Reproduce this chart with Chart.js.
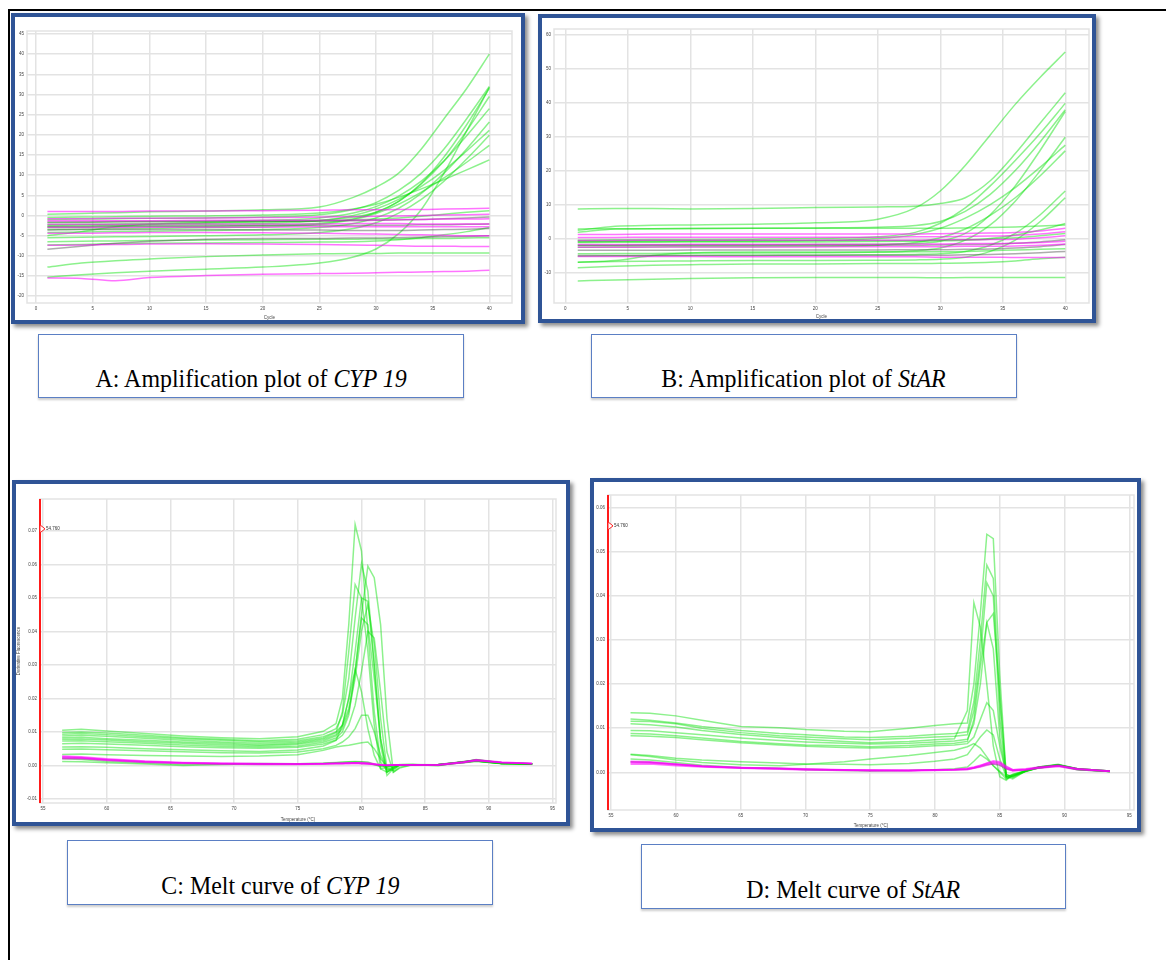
<!DOCTYPE html>
<html>
<head>
<meta charset="utf-8">
<script src="https://cdn.jsdelivr.net/npm/chart.js@4.4.1/dist/chart.umd.min.js"></script>
<style>
  body { margin: 0; background: #fff; width: 1166px; height: 960px; overflow: hidden; position: relative; }
  .page { position: absolute; left: 8px; top: 9px; width: 1158px; height: 951px; border-top: 2px solid #000; border-left: 2px solid #000; box-sizing: border-box; }
  .frame { position: absolute; box-sizing: border-box; border: 4px solid #2f5496; background: #fff; box-shadow: 3px 3px 4px rgba(0,0,0,0.45); }
  canvas { position: absolute; }
  .cap { position: absolute; box-sizing: border-box; border: 1px solid #5b7fc4; background: #fff;
         font-family: 'Liberation Serif', 'Times New Roman', serif; font-size: 26px; color: #000;
         display: flex; align-items: flex-end; justify-content: center; padding-bottom: 3px;
         box-shadow: 0 2px 2px rgba(0,0,0,0.2); white-space: pre; }
  .cap span { display: inline-block; transform: scaleX(0.92); }
</style>
</head>
<body>
<div class="page"></div>

<div class="frame" style="left:11px;top:13px;width:514px;height:311px"></div>
<div class="frame" style="left:538px;top:14px;width:558px;height:309px"></div>
<div class="frame" style="left:12px;top:480px;width:558px;height:346px"></div>
<div class="frame" style="left:590px;top:478px;width:551px;height:354px"></div>

<canvas id="chartA" width="506" height="303" style="left:15px;top:17px"></canvas>
<canvas id="chartB" width="550" height="301" style="left:542px;top:18px"></canvas>
<canvas id="chartC" width="550" height="338" style="left:16px;top:484px"></canvas>
<canvas id="chartD" width="543" height="346" style="left:594px;top:482px"></canvas>

<div class="cap" style="left:38px;top:334px;width:426px;height:64px"><span>A: Amplification plot of <i>CYP 19</i></span></div>
<div class="cap" style="left:591px;top:334px;width:426px;height:64px"><span>B: Amplification plot of <i>StAR</i></span></div>
<div class="cap" style="left:67px;top:840px;width:426px;height:65px"><span>C: Melt curve of <i>CYP 19</i></span></div>
<div class="cap" style="left:641px;top:844px;width:425px;height:65px"><span>D: Melt curve of <i>StAR</i></span></div>

<script>
// ---- amplification plots: cycle numbers ----
const cycles = [1, 4, 7, 10, 15, 20, 25, 28, 30, 32, 34, 36, 38, 40];

// A: CYP 19 amplification (fluorescence)
const aGreen = [
  [0.3, 0.5, 0.7, 0.9, 1.1, 1.4, 2.1, 4.5, 7.0, 10.5, 16.5, 24.0, 31.5, 40.0],
  [-1.0, -0.9, -0.8, -0.7, -0.6, -0.4, 0.2, 1.5, 3.2, 6.2, 10.5, 16.5, 24.0, 32.0],
  [-2.3, -2.2, -2.1, -2.0, -1.8, -1.6, -1.2, -0.4, 0.8, 3.5, 8.0, 14.5, 22.5, 31.5],
  [-3.0, -2.9, -2.8, -2.7, -2.6, -2.4, -1.9, -0.8, 0.8, 3.5, 7.8, 13.5, 21.0, 29.5],
  [-1.8, -1.7, -1.6, -1.5, -1.4, -1.2, -0.6, 0.6, 2.2, 4.8, 8.5, 13.5, 19.8, 26.5],
  [-4.2, -4.1, -4.0, -3.9, -3.7, -3.5, -3.0, -2.0, -0.6, 1.8, 5.5, 10.5, 16.5, 23.2],
  [-2.6, -2.5, -2.4, -2.3, -2.2, -2.0, -1.3, 0.0, 1.6, 4.0, 7.2, 11.2, 16.0, 21.1],
  [-5.5, -5.4, -5.3, -5.2, -5.0, -4.8, -4.2, -3.2, -1.8, 0.6, 4.0, 8.5, 14.0, 19.9],
  [-3.5, -3.4, -3.3, -3.2, -3.0, -2.8, -2.2, -1.0, 0.5, 2.8, 5.8, 9.3, 13.2, 17.4],
  [-0.5, -0.4, -0.3, -0.2, -0.1, 0.1, 0.6, 1.6, 2.8, 4.5, 6.6, 8.9, 11.3, 13.8],
  [-15.3, -14.7, -14.2, -13.8, -13.3, -12.8, -11.8, -10.3, -8.3, -4.5, 1.5, 10.5, 21.0, 31.8],
  [-12.8, -11.8, -11.2, -10.8, -10.2, -9.8, -9.5, -9.4, -9.4, -9.3, -9.3, -9.3, -9.3, -9.3],
  [-6.5, -6.4, -6.3, -6.2, -6.1, -6.0, -5.9, -5.9, -5.8, -5.8, -5.7, -5.7, -5.6, -5.5],
  [-7.3, -7.2, -7.0, -6.9, -6.8, -6.7, -6.6, -6.5, -6.3, -6.0, -5.5, -4.8, -4.0, -3.0],
  [-5.0, -4.0, -2.8, -2.2, -1.8, -1.5, -1.3, -1.1, -0.9, -0.6, -0.2, 0.3, 0.8, 1.2]
];
const aMagenta = [
  [1.0, 1.0, 1.0, 1.1, 1.1, 1.2, 1.3, 1.4, 1.4, 1.5, 1.5, 1.6, 1.7, 1.8],
  [-0.8, -0.8, -0.7, -0.7, -0.6, -0.5, -0.4, -0.3, -0.2, -0.1, 0.0, 0.1, 0.2, 0.3],
  [-1.3, -1.3, -1.3, -1.3, -1.2, -1.2, -1.2, -1.1, -1.1, -1.0, -1.0, -0.9, -0.9, -0.8],
  [-2.2, -2.2, -2.2, -2.1, -2.1, -2.1, -2.1, -2.0, -2.0, -2.0, -2.1, -2.1, -2.1, -2.1],
  [-3.0, -3.0, -3.0, -2.9, -2.9, -2.9, -2.8, -2.8, -2.8, -2.8, -2.8, -2.8, -2.8, -2.8],
  [-4.4, -4.4, -4.3, -4.2, -4.2, -4.3, -4.4, -4.5, -4.6, -4.7, -4.8, -4.9, -5.0, -5.0],
  [-7.4, -7.3, -7.2, -7.1, -7.0, -7.1, -7.2, -7.3, -7.4, -7.5, -7.6, -7.6, -7.7, -7.7],
  [-15.5, -15.6, -16.2, -15.4, -14.9, -14.6, -14.4, -14.3, -14.2, -14.1, -14.0, -13.9, -13.8, -13.6]
];
const aGray = [
  [-1.6, -1.6, -1.5, -1.5, -1.5, -1.4, -1.4, -1.3, -1.2, -1.1, -1.0, -0.8, -0.6, -0.4],
  [-2.7, -2.7, -2.6, -2.6, -2.6, -2.5, -2.5, -2.5, -2.4, -2.4, -2.3, -2.3, -2.2, -2.1],
  [-3.6, -3.5, -3.5, -3.5, -3.5, -3.6, -3.6, -3.7, -3.7, -3.7, -3.6, -3.5, -3.4, -3.2],
  [-8.4, -7.6, -6.9, -6.4, -5.9, -5.7, -5.7, -5.6, -5.6, -5.5, -5.4, -5.3, -5.2, -5.0]
];

// B: StAR amplification
const bGreen = [
  [2.4, 3.6, 3.9, 4.0, 4.2, 4.6, 5.7, 9.0, 14.0, 21.5, 30.5, 39.5, 47.5, 54.9],
  [8.7, 8.8, 8.8, 8.7, 8.8, 9.1, 9.3, 9.5, 10.3, 12.0, 17.0, 25.0, 34.0, 42.9],
  [-0.5, -0.4, -0.3, -0.3, -0.2, 0.0, 0.5, 1.8, 4.5, 9.0, 15.5, 23.0, 31.0, 39.8],
  [2.8, 2.9, 2.9, 3.0, 3.0, 3.1, 3.3, 3.8, 5.0, 8.0, 13.0, 20.0, 28.5, 37.9],
  [-2.0, -2.0, -1.9, -1.9, -1.9, -1.8, -1.7, -1.5, -0.8, 1.5, 7.0, 15.5, 26.0, 37.4],
  [-4.5, -4.4, -4.4, -4.3, -4.3, -4.2, -4.0, -3.6, -2.8, -0.5, 4.0, 11.0, 20.0, 29.8],
  [-1.0, -0.9, -0.9, -0.8, -0.8, -0.6, 0.0, 1.2, 3.0, 6.0, 10.0, 15.0, 21.0, 27.5],
  [-2.6, -2.5, -2.5, -2.4, -2.4, -2.3, -2.0, -1.2, 0.2, 2.8, 6.8, 12.0, 18.5, 25.8],
  [-5.2, -5.1, -5.0, -5.0, -4.9, -4.9, -4.8, -4.7, -4.5, -3.8, -2.0, 1.5, 7.0, 14.0],
  [-7.0, -6.8, -6.7, -6.6, -6.5, -6.5, -6.4, -6.3, -6.1, -5.5, -3.8, -0.5, 5.0, 12.0],
  [-1.2, -1.1, -1.1, -1.0, -1.0, -1.0, -0.9, -0.8, -0.7, -0.5, 0.0, 1.0, 2.5, 4.4],
  [-12.5, -12.2, -12.0, -11.8, -11.6, -11.5, -11.5, -11.5, -11.6, -11.5, -11.5, -11.5, -11.5, -11.5],
  [-8.6, -8.2, -7.9, -7.7, -7.5, -7.5, -7.4, -7.4, -7.3, -7.2, -7.0, -6.6, -6.0, -5.5],
  [1.8, 2.8, 2.9, 2.9, 3.0, 3.0, 3.0, 3.0, 3.0, 3.1, 3.2, 3.4, 3.7, 4.0],
  [-7.0, -6.5, -5.0, -4.3, -4.0, -4.0, -4.0, -3.9, -3.9, -3.8, -3.6, -3.4, -3.2, -3.0],
  [-0.8, -0.8, -0.7, -0.7, -0.6, -0.6, -0.6, -0.6, -0.5, -0.4, -0.2, 0.2, 0.8, 1.5]
];
const bMagenta = [
  [1.2, 1.2, 1.3, 1.3, 1.3, 1.3, 1.3, 1.3, 1.4, 1.5, 1.6, 1.8, 2.2, 3.0],
  [0.3, 0.3, 0.4, 0.4, 0.4, 0.4, 0.4, 0.5, 0.5, 0.6, 0.7, 0.9, 1.3, 2.0],
  [-0.6, -0.6, -0.5, -0.5, -0.5, -0.5, -0.5, -0.5, -0.4, -0.4, -0.3, -0.2, 0.2, 0.8],
  [-1.8, -1.8, -1.8, -1.7, -1.7, -1.7, -1.7, -1.6, -1.6, -1.5, -1.5, -1.4, -1.2, -0.8],
  [-2.6, -2.6, -2.5, -2.5, -2.5, -2.5, -2.4, -2.4, -2.4, -2.3, -2.3, -2.2, -2.0, -1.6],
  [-5.3, -5.3, -5.3, -5.3, -5.4, -5.4, -5.4, -5.4, -5.5, -5.5, -5.5, -5.6, -5.6, -5.6]
];
const bGray = [
  [-2.1, -2.1, -2.0, -2.0, -2.0, -2.0, -2.0, -2.0, -1.9, -1.8, -1.7, -1.4, -1.0, -0.4],
  [-3.5, -3.5, -3.5, -3.4, -3.4, -3.4, -3.4, -3.3, -3.3, -3.2, -3.1, -2.8, -2.4, -1.8],
  [-5.0, -5.0, -5.0, -5.0, -5.0, -4.9, -4.9, -4.9, -4.9, -4.8, -4.7, -4.5, -4.2, -3.8]
];

// ---- melt curves: temperature (°C) ----
const tempC = [56.5, 58, 60, 63, 66, 69, 72, 75, 77, 78, 78.5, 79, 79.5, 80, 80.5, 81, 81.5, 82, 82.5, 83, 84, 86, 88, 89, 91, 93.4];
const cGreen = [
  [0.0105, 0.0108, 0.0103, 0.0095, 0.0088, 0.0083, 0.0080, 0.0086, 0.0102, 0.0125, 0.020, 0.042, 0.0719, 0.064, 0.040, 0.016, 0.001, -0.0015, -0.0005, 0.0003, 0.0002, 0.0002, 0.0008, 0.0012, 0.0006, 0.0004],
  [0.0098, 0.0100, 0.0097, 0.0090, 0.0083, 0.0078, 0.0074, 0.0078, 0.0092, 0.0110, 0.015, 0.026, 0.044, 0.0602, 0.052, 0.030, 0.008, -0.002, -0.001, 0.0002, 0.0003, 0.0001, 0.0009, 0.0015, 0.0007, 0.0005],
  [0.0093, 0.0095, 0.0092, 0.0086, 0.0080, 0.0075, 0.0071, 0.0074, 0.0086, 0.0100, 0.012, 0.017, 0.028, 0.045, 0.0595, 0.056, 0.042, 0.014, -0.002, -0.0008, 0.0002, 0.0002, 0.0010, 0.0014, 0.0006, 0.0004],
  [0.0088, 0.0090, 0.0087, 0.0081, 0.0075, 0.0070, 0.0066, 0.0070, 0.0082, 0.0098, 0.016, 0.034, 0.054, 0.050, 0.034, 0.012, -0.001, -0.002, -0.0005, 0.0002, 0.0001, 0.0003, 0.0011, 0.0013, 0.0005, 0.0004],
  [0.0083, 0.0084, 0.0080, 0.0075, 0.0070, 0.0066, 0.0062, 0.0066, 0.0078, 0.0092, 0.012, 0.020, 0.034, 0.050, 0.049, 0.030, 0.006, -0.003, -0.001, 0.0002, 0.0002, 0.0002, 0.0010, 0.0016, 0.0006, 0.0005],
  [0.0078, 0.0079, 0.0076, 0.0071, 0.0066, 0.0062, 0.0059, 0.0063, 0.0074, 0.0088, 0.011, 0.016, 0.026, 0.040, 0.048, 0.036, 0.014, -0.001, -0.0015, 0.0001, 0.0002, 0.0001, 0.0009, 0.0013, 0.0007, 0.0004],
  [0.0073, 0.0074, 0.0071, 0.0066, 0.0061, 0.0057, 0.0055, 0.0058, 0.0069, 0.0082, 0.010, 0.015, 0.028, 0.044, 0.042, 0.026, 0.008, -0.002, -0.0008, 0.0002, 0.0003, 0.0002, 0.0011, 0.0015, 0.0006, 0.0005],
  [0.0065, 0.0066, 0.0064, 0.0060, 0.0056, 0.0053, 0.0051, 0.0054, 0.0064, 0.0076, 0.009, 0.012, 0.018, 0.028, 0.040, 0.038, 0.022, 0.004, -0.002, -0.0005, 0.0002, 0.0002, 0.0010, 0.0014, 0.0007, 0.0004],
  [0.0055, 0.0056, 0.0054, 0.0050, 0.0047, 0.0044, 0.0042, 0.0046, 0.0058, 0.0075, 0.012, 0.020, 0.0287, 0.022, 0.011, 0.003, -0.001, -0.0005, 0.0, 0.0002, 0.0002, 0.0002, 0.0010, 0.0013, 0.0006, 0.0004],
  [0.0048, 0.0049, 0.0047, 0.0044, 0.0041, 0.0038, 0.0037, 0.0040, 0.0050, 0.0060, 0.0070, 0.0085, 0.011, 0.0150, 0.0150, 0.010, 0.003, -0.001, -0.0005, 0.0002, 0.0002, 0.0002, 0.0009, 0.0013, 0.0006, 0.0004],
  [0.0033, 0.0034, 0.0032, 0.0030, 0.0028, 0.0027, 0.0028, 0.0032, 0.0045, 0.0055, 0.0058, 0.0060, 0.0064, 0.0068, 0.0070, 0.0050, 0.002, -0.0005, 0.0, 0.0002, 0.0002, 0.0002, 0.0010, 0.0014, 0.0006, 0.0004],
  [0.0012, 0.0011, 0.0008, 0.0004, 0.0000, 0.0003, 0.0005, 0.0004, 0.0006, 0.0008, 0.0009, 0.0010, 0.0011, 0.0010, 0.0008, 0.0003, -0.0004, 0.0000, 0.0002, 0.0001, 0.0002, 0.0001, 0.0010, 0.0018, 0.0007, 0.0005],
  [0.0020, 0.0018, 0.0012, 0.0007, 0.0003, 0.0005, 0.0006, 0.0005, 0.0007, 0.0009, 0.0010, 0.0011, 0.0012, 0.0011, 0.0010, 0.0004, 0.0000, -0.0002, 0.0001, 0.0002, 0.0003, -0.0001, 0.0012, 0.0016, 0.0008, 0.0005]
];
const cMagenta = [
  [0.0028, 0.0026, 0.0020, 0.0013, 0.0009, 0.0007, 0.0006, 0.0005, 0.0006, 0.0007, 0.0007, 0.0008, 0.0008, 0.0007, 0.0006, 0.0004, 0.0002, 0.0001, 0.0002, 0.0002, 0.0002, 0.0001, 0.0008, 0.0014, 0.0008, 0.0006],
  [0.0024, 0.0023, 0.0017, 0.0011, 0.0007, 0.0005, 0.0004, 0.0004, 0.0005, 0.0006, 0.0006, 0.0006, 0.0007, 0.0006, 0.0005, 0.0003, 0.0002, 0.0001, 0.0001, 0.0002, 0.0001, 0.0002, 0.0010, 0.0016, 0.0009, 0.0005],
  [0.0020, 0.0021, 0.0015, 0.0009, 0.0006, 0.0004, 0.0003, 0.0003, 0.0004, 0.0005, 0.0005, 0.0005, 0.0005, 0.0005, 0.0004, 0.0003, 0.0001, 0.0000, 0.0001, 0.0001, 0.0001, 0.0001, 0.0009, 0.0015, 0.0009, 0.0006],
  [0.0026, 0.0024, 0.0018, 0.0012, 0.0008, 0.0006, 0.0005, 0.0004, 0.0005, 0.0006, 0.0006, 0.0007, 0.0008, 0.0009, 0.0008, 0.0005, 0.0002, 0.0000, 0.0002, 0.0002, 0.0002, 0.0003, 0.0011, 0.0017, 0.0010, 0.0006]
];
const cGray = [
  [0.0022, 0.0021, 0.0016, 0.0010, 0.0007, 0.0005, 0.0004, 0.0004, 0.0005, 0.0006, 0.0006, 0.0007, 0.0007, 0.0006, 0.0005, 0.0003, 0.0001, 0.0001, 0.0001, 0.0001, 0.0002, 0.0002, 0.0010, 0.0017, 0.0009, 0.0005]
];

const tempD = [56.5, 58, 60, 62, 65, 68, 70, 73, 75, 78, 80, 81.5, 82.5, 83, 83.5, 84, 84.5, 85, 85.5, 86, 87, 88, 89.5, 91, 93.5];
const dGreen = [
  [0.0135, 0.0134, 0.0128, 0.0118, 0.0104, 0.0101, 0.0097, 0.0093, 0.0092, 0.0100, 0.0106, 0.0110, 0.0112, 0.020, 0.036, 0.054, 0.053, 0.022, -0.0010, -0.0015, 0.0003, 0.0012, 0.0018, 0.0008, 0.0003],
  [0.0121, 0.0118, 0.0112, 0.0104, 0.0095, 0.0088, 0.0085, 0.0080, 0.0079, 0.0082, 0.0086, 0.0088, 0.0092, 0.016, 0.030, 0.047, 0.044, 0.016, -0.0012, -0.0010, 0.0004, 0.0010, 0.0016, 0.0007, 0.0002],
  [0.0116, 0.0115, 0.0110, 0.0100, 0.0090, 0.0083, 0.0080, 0.0076, 0.0074, 0.0077, 0.0080, 0.0082, 0.0085, 0.014, 0.026, 0.043, 0.040, 0.012, -0.0015, -0.0008, 0.0003, 0.0011, 0.0017, 0.0008, 0.0003],
  [0.0110, 0.0108, 0.0103, 0.0095, 0.0086, 0.0079, 0.0075, 0.0070, 0.0067, 0.0070, 0.0074, 0.0076, 0.014, 0.0385, 0.033, 0.020, 0.006, -0.0010, -0.0018, -0.0005, 0.0003, 0.0012, 0.0016, 0.0007, 0.0002],
  [0.0095, 0.0094, 0.0090, 0.0085, 0.0078, 0.0072, 0.0069, 0.0066, 0.0064, 0.0066, 0.0069, 0.0071, 0.0075, 0.011, 0.020, 0.034, 0.036, 0.018, -0.0005, -0.0012, 0.0002, 0.0010, 0.0015, 0.0006, 0.0002],
  [0.0088, 0.0087, 0.0083, 0.0078, 0.0070, 0.0065, 0.0062, 0.0060, 0.0058, 0.0061, 0.0064, 0.0066, 0.0070, 0.012, 0.024, 0.034, 0.028, 0.008, -0.0010, -0.0008, 0.0003, 0.0011, 0.0017, 0.0007, 0.0003],
  [0.0083, 0.0082, 0.0079, 0.0074, 0.0067, 0.0062, 0.0059, 0.0056, 0.0055, 0.0057, 0.0060, 0.0062, 0.0065, 0.0080, 0.0120, 0.0158, 0.0140, 0.006, -0.0005, -0.0010, 0.0003, 0.0010, 0.0016, 0.0007, 0.0002],
  [0.0041, 0.0038, 0.0032, 0.0028, 0.0024, 0.0021, 0.0019, 0.0018, 0.0017, 0.0020, 0.0025, 0.0030, 0.0040, 0.0060, 0.0080, 0.0096, 0.0085, 0.003, -0.0010, -0.0005, 0.0004, 0.0012, 0.0017, 0.0008, 0.0003],
  [0.0040, 0.0036, 0.0028, 0.0022, 0.0017, 0.0015, 0.0018, 0.0024, 0.0030, 0.0038, 0.0045, 0.0050, 0.0058, 0.0065, 0.0055, 0.0035, 0.0015, 0.0002, -0.0010, -0.0006, 0.0003, 0.0011, 0.0017, 0.0007, 0.0002],
  [0.0030, 0.0028, 0.0022, 0.0016, 0.0011, 0.0009, 0.0006, 0.0004, 0.0003, 0.0004, 0.0006, 0.0008, 0.0012, 0.0025, 0.0040, 0.0030, 0.0015, 0.0000, -0.0015, -0.0008, 0.0002, 0.0010, 0.0016, 0.0006, 0.0002]
];
const dMagenta = [
  [0.0025, 0.0024, 0.0019, 0.0015, 0.0011, 0.0009, 0.0008, 0.0006, 0.0005, 0.0005, 0.0006, 0.0007, 0.0009, 0.0012, 0.0016, 0.0020, 0.0024, 0.0022, 0.0012, 0.0006, 0.0008, 0.0012, 0.0016, 0.0008, 0.0003],
  [0.0021, 0.0021, 0.0017, 0.0013, 0.0010, 0.0008, 0.0006, 0.0005, 0.0004, 0.0004, 0.0005, 0.0006, 0.0007, 0.0010, 0.0014, 0.0019, 0.0022, 0.0020, 0.0010, 0.0004, 0.0006, 0.0010, 0.0014, 0.0007, 0.0002],
  [0.0018, 0.0019, 0.0015, 0.0012, 0.0009, 0.0007, 0.0005, 0.0004, 0.0003, 0.0003, 0.0004, 0.0005, 0.0006, 0.0009, 0.0012, 0.0016, 0.0020, 0.0018, 0.0008, 0.0003, 0.0005, 0.0009, 0.0013, 0.0006, 0.0002],
  [0.0023, 0.0022, 0.0018, 0.0014, 0.0011, 0.0009, 0.0007, 0.0005, 0.0005, 0.0004, 0.0005, 0.0006, 0.0008, 0.0011, 0.0015, 0.0021, 0.0026, 0.0024, 0.0014, 0.0006, 0.0007, 0.0011, 0.0015, 0.0008, 0.0003]
];
const dGray = [
  [0.0024, 0.0023, 0.0018, 0.0014, 0.0010, 0.0008, 0.0007, 0.0005, 0.0004, 0.0004, 0.0005, 0.0006, 0.0007, 0.0010, 0.0013, 0.0017, 0.0019, 0.0016, 0.0008, 0.0004, 0.0006, 0.0011, 0.0016, 0.0008, 0.0003]
];

const meltThreshold = 54.76;

// colours
const GREEN = 'rgba(0, 225, 0, 0.45)';
const MAGENTA = 'rgba(255, 0, 255, 0.55)';
const GRAY = 'rgba(70, 70, 70, 0.45)';
const GRID = '#e3e3e3';
const FONT = "'Liberation Sans', 'DejaVu Sans', sans-serif";

function series(xs, groups, smooth) {
  const out = [];
  // first dataset is drawn on top, so magenta goes first
  [[groups.magenta, MAGENTA], [groups.gray, GRAY], [groups.green, GREEN]].forEach(([list, col]) => {
    list.forEach(ys => out.push({
      data: xs.map((x, i) => ({ x: x, y: ys[i] })),
      borderColor: col,
      borderWidth: 1.5,
      pointRadius: 0,
      fill: false,
      tension: smooth ? 0.4 : 0,
      cubicInterpolationMode: smooth ? 'monotone' : 'default'
    }));
  });
  return out;
}

function onSteps(step) {
  return function(scale) {
    scale.ticks = scale.ticks.filter(t => Math.abs(t.value / step - Math.round(t.value / step)) < 1e-6);
  };
}

// light frame round the plot area
const plotBox = {
  id: 'plotBox',
  beforeDatasetsDraw(chart) {
    const a = chart.chartArea, ctx = chart.ctx;
    ctx.save();
    ctx.strokeStyle = GRID;
    ctx.lineWidth = 1.5;
    ctx.strokeRect(a.left, a.top, a.right - a.left, a.bottom - a.top);
    ctx.restore();
  }
};

// red start marker on melt plots
const startMarker = {
  id: 'startMarker',
  afterDatasetsDraw(chart, args, opts) {
    if (opts.value === undefined) return;
    const ctx = chart.ctx, a = chart.chartArea;
    const x = chart.scales.x.getPixelForValue(opts.value);
    const y = chart.scales.y.getPixelForValue(opts.at);
    ctx.save();
    ctx.strokeStyle = '#ff1a1a';
    ctx.lineWidth = 2;
    ctx.beginPath();
    ctx.moveTo(x, a.top);
    ctx.lineTo(x, a.bottom);
    ctx.stroke();
    ctx.lineWidth = 1;
    ctx.fillStyle = '#fff';
    ctx.beginPath();
    ctx.moveTo(x, y - 4);
    ctx.lineTo(x + 5, y);
    ctx.lineTo(x, y + 4);
    ctx.closePath();
    ctx.fill();
    ctx.stroke();
    ctx.fillStyle = '#333';
    ctx.font = '4.5px ' + FONT;
    ctx.textBaseline = 'middle';
    ctx.fillText(opts.value.toFixed(3), x + 6, y);
    ctx.restore();
  }
};

function makeChart(id, cfg) {
  const tickFont = { family: FONT, size: 4.5 };
  new Chart(document.getElementById(id), {
    type: 'line',
    data: { datasets: cfg.datasets },
    plugins: [plotBox, startMarker],
    options: {
      responsive: false,
      animation: false,
      events: [],
      layout: { padding: cfg.padding },
      plugins: {
        legend: { display: false },
        tooltip: { enabled: false },
        startMarker: cfg.marker || {}
      },
      scales: {
        x: {
          type: 'linear',
          min: cfg.x.min, max: cfg.x.max,
          afterBuildTicks: onSteps(5),
          afterFit: s => { s.height = cfg.xHeight; },
          ticks: { stepSize: 5, includeBounds: false, font: tickFont, color: '#444', padding: 3, maxRotation: 0 },
          grid: { color: GRID, lineWidth: 1.5, drawTicks: false },
          border: { display: false },
          title: { display: true, text: cfg.x.title, font: tickFont, color: '#444', padding: { top: 1, bottom: 0 } }
        },
        y: {
          min: cfg.y.min, max: cfg.y.max,
          afterBuildTicks: onSteps(cfg.y.step),
          afterFit: s => { s.width = cfg.yWidth; },
          ticks: { stepSize: cfg.y.step, includeBounds: false, font: tickFont, color: '#444', padding: 3,
                   callback: cfg.y.fmt || (v => v) },
          grid: { color: GRID, lineWidth: 1.5, drawTicks: false },
          border: { display: false },
          title: { display: !!cfg.y.title, text: cfg.y.title || '', font: tickFont, color: '#444', padding: 0 }
        }
      }
    }
  });
}

makeChart('chartA', {
  datasets: series(cycles, { green: aGreen, magenta: aMagenta, gray: aGray }, true),
  padding: { left: 0, top: 14, right: 9, bottom: 0 },
  yWidth: 12, xHeight: 17,
  x: { min: -0.8, max: 42, title: 'Cycle' },
  y: { min: -21.7, max: 45.75, step: 5 }
});

makeChart('chartB', {
  datasets: series(cycles, { green: bGreen, magenta: bMagenta, gray: bGray }, true),
  padding: { left: 0, top: 11, right: 3, bottom: 0 },
  yWidth: 12, xHeight: 16,
  x: { min: -0.9, max: 41.9, title: 'Cycle' },
  y: { min: -19.0, max: 61.7, step: 10 }
});

makeChart('chartC', {
  datasets: series(tempC, { green: cGreen, magenta: cMagenta, gray: cGray }, false),
  padding: { left: 0, top: 15, right: 10, bottom: 0 },
  yWidth: 24, xHeight: 19,
  x: { min: 54.76, max: 95.27, title: 'Temperature (°C)' },
  y: { min: -0.0112, max: 0.0795, step: 0.01, fmt: v => v.toFixed(2), title: 'Derivative Fluorescence' },
  marker: { value: meltThreshold, at: 0.0706 }
});

makeChart('chartD', {
  datasets: series(tempD, { green: dGreen, magenta: dMagenta, gray: dGray }, false),
  padding: { left: 0, top: 13, right: 3, bottom: 0 },
  yWidth: 14, xHeight: 18,
  x: { min: 54.76, max: 95.36, title: 'Temperature (°C)' },
  y: { min: -0.00855, max: 0.0629, step: 0.01, fmt: v => v.toFixed(2) },
  marker: { value: meltThreshold, at: 0.0559 }
});
</script>
</body>
</html>
